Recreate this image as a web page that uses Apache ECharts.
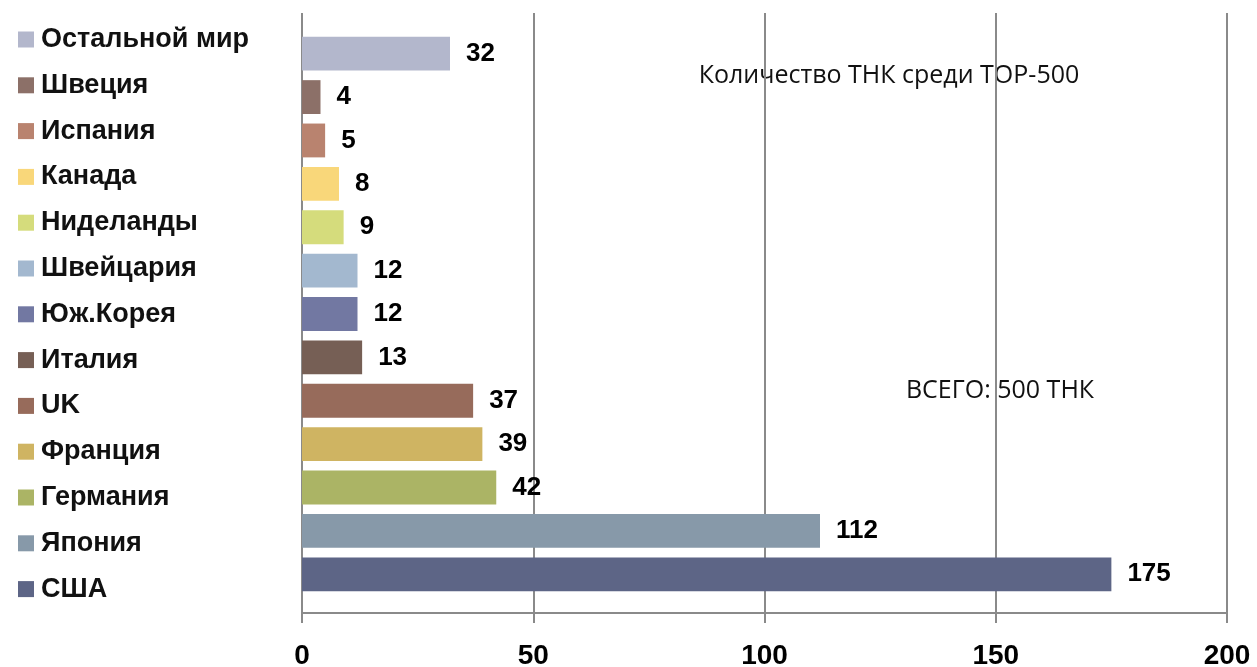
<!DOCTYPE html>
<html lang="ru">
<head>
    <meta charset="UTF-8">
    <title>ТНК среди TOP-500</title>
    <script src="https://cdn.jsdelivr.net/npm/echarts@6/dist/echarts.min.js"></script>
    <style type="text/css">
        *{
            padding: 0px;
            margin: 0px;
            border: 0px;
        }
        #chart{
            width: 1257px;
            height: 667px;
            background: #fff;
        }
    </style>
</head>
<body>
<div id="chart"></div>
<script>
    // страны сверху вниз
    var countries = ['Остальной мир', 'Швеция', 'Испания', 'Канада', 'Ниделанды', 'Швейцария',
        'Юж.Корея', 'Италия', 'UK', 'Франция', 'Германия', 'Япония', 'США'];
    var values = [32, 4, 5, 8, 9, 12, 12, 13, 37, 39, 42, 112, 175];
    var colors = ['#b3b7cc', '#8c7068', '#b9836f', '#f9d77a', '#d5dc7c', '#a3b8cf',
        '#7278a2', '#765f55', '#976b5b', '#cfb462', '#abb465', '#8799a9', '#5d6586'];
    var xMin = 0, xMax = 200, xStep = 50;

    var boldFont = 'Liberation Sans';
    var textFont = 'Open Sans';

    // каждая страна - отдельная серия, чтобы была в легенде со своим цветом
    var series = countries.map(function (name, i) {
        return {
            name: name,
            type: 'bar',
            stack: 'all',
            xAxisIndex: 1,
            yAxisIndex: 1,
            barCategoryGap: '22%',
            itemStyle: {color: colors[i]},
            label: {
                show: true,
                position: 'right',
                distance: 16,
                fontFamily: boldFont,
                fontWeight: 'bold',
                fontSize: 26,
                color: '#000'
            },
            data: countries.map(function (c, j) {
                return j === i ? values[i] : '-';
            })
        };
    });

    var option = {
        animation: false,
        legend: {
            orient: 'vertical',
            left: 18,
            top: 26,
            height: 640,
            padding: 0,
            icon: 'rect',
            itemWidth: 16,
            itemHeight: 16,
            itemGap: 18.8,
            selectedMode: false,
            data: countries,
            textStyle: {
                fontFamily: boldFont,
                fontWeight: 'bold',
                fontSize: 27,
                color: '#111',
                padding: [0, 0, 0, 2]
            }
        },
        grid: [
            {left: 302, right: 30, top: 13, bottom: 54, outerBoundsMode: 'none'},
            {left: 302, right: 30, top: 32, bottom: 71, outerBoundsMode: 'none'}
        ],
        xAxis: [
            {
                gridIndex: 0,
                type: 'value',
                min: xMin,
                max: xMax,
                interval: xStep,
                axisLine: {show: true, lineStyle: {color: '#8a8a8a', width: 2}},
                axisTick: {show: true, length: 10, lineStyle: {color: '#8a8a8a', width: 2}},
                splitLine: {show: true, lineStyle: {color: '#8a8a8a', width: 2}},
                axisLabel: {
                    margin: 29,
                    fontFamily: boldFont,
                    fontWeight: 'bold',
                    fontSize: 28,
                    color: '#000'
                }
            },
            {
                gridIndex: 1,
                type: 'value',
                min: xMin,
                max: xMax,
                interval: xStep,
                show: false
            }
        ],
        yAxis: [
            {gridIndex: 0, type: 'value', min: 0, max: 1, show: false},
            {gridIndex: 1, type: 'category', inverse: true, data: countries, show: false}
        ],
        graphic: [
            {
                type: 'text',
                x: 889,
                y: 76,
                style: {
                    text: 'Количество ТНК среди TOP-500',
                    font: '25px "' + textFont + '"',
                    fill: '#111',
                    textAlign: 'center',
                    textVerticalAlign: 'middle'
                }
            },
            {
                type: 'text',
                x: 1000,
                y: 391,
                style: {
                    text: 'ВСЕГО: 500 ТНК',
                    font: '25px "' + textFont + '"',
                    fill: '#111',
                    textAlign: 'center',
                    textVerticalAlign: 'middle'
                }
            }
        ],
        series: series
    };

    var chart = echarts.init(document.getElementById('chart'));
    chart.setOption(option);
</script>
</body>
</html>
